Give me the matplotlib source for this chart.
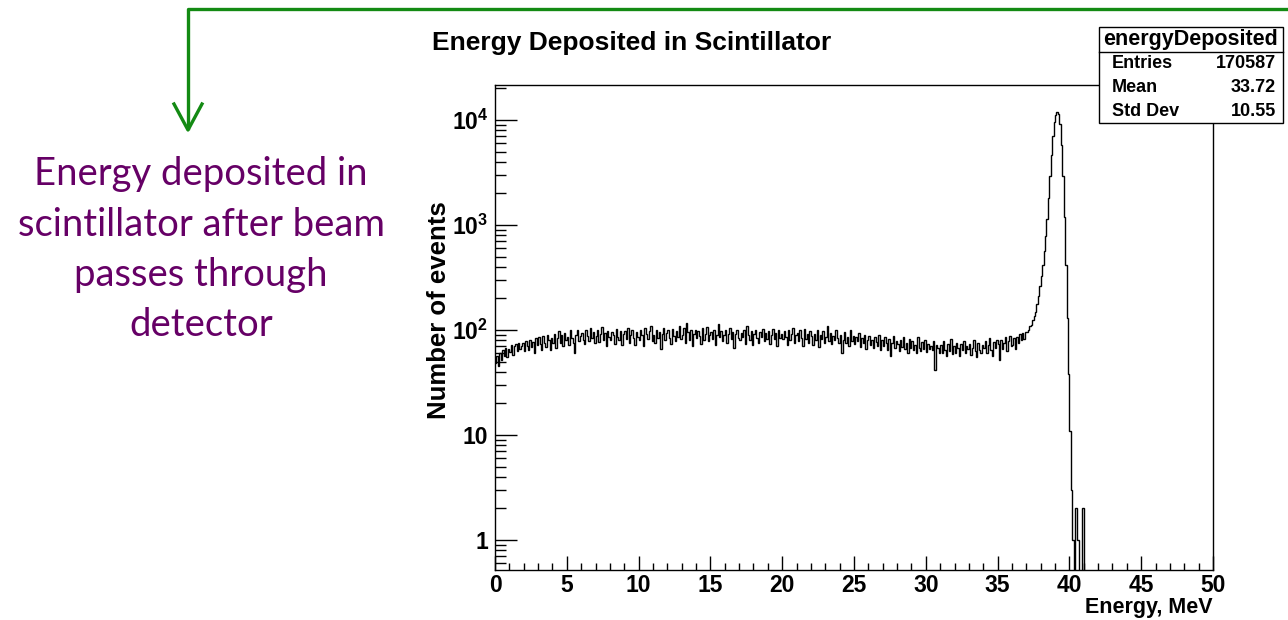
import numpy as np
import matplotlib.pyplot as plt
from matplotlib.lines import Line2D
from matplotlib.patches import Rectangle
from matplotlib.ticker import MultipleLocator, LogLocator, NullFormatter, FixedLocator, FixedFormatter

plt.rcParams['mathtext.fontset'] = 'custom'
plt.rcParams['mathtext.bf'] = 'Liberation Sans:bold'
plt.rcParams['mathtext.rm'] = 'Liberation Sans:bold'

# histogram of energy deposited, 500 bins of 0.1 MeV (0 - 50 MeV)
e_min, e_max = 0.0, 50.0
counts = np.array([
    48, 56, 45, 60, 52, 64, 57, 68, 55, 66,
    62, 72, 58, 70, 74, 63, 76, 66, 71, 75,
    63, 78, 70, 64, 81, 69, 77, 60, 83, 72,
    85, 73, 64, 88, 76, 69, 90, 80, 65, 84,
    75, 92, 68, 83, 98, 76, 89, 70, 94, 81,
    86, 72, 99, 84, 76, 60, 90, 100, 78, 88,
    94, 80, 73, 101, 88, 78, 104, 84, 96, 75,
    87, 99, 77, 91, 106, 81, 93, 70, 97, 85,
    80, 96, 89, 74, 102, 86, 81, 98, 72, 91,
    97, 82, 105, 76, 89, 101, 84, 72, 96, 86,
    80, 99, 90, 70, 104, 92, 82, 97, 108, 78,
    89, 75, 101, 84, 96, 66, 91, 105, 80, 93,
    99, 84, 73, 103, 88, 78, 98, 86, 110, 82,
    90, 104, 76, 116, 95, 81, 99, 70, 92, 101,
    84, 97, 88, 74, 104, 80, 92, 107, 78, 90,
    96, 82, 101, 72, 90, 114, 85, 98, 79, 89,
    99, 76, 92, 104, 82, 96, 68, 91, 101, 84,
    80, 93, 86, 100, 74, 108, 89, 81, 98, 72,
    91, 101, 84, 76, 96, 86, 103, 78, 93, 82,
    98, 74, 89, 102, 82, 94, 70, 100, 84, 91,
    82, 97, 86, 72, 100, 80, 91, 105, 76, 89,
    94, 78, 99, 84, 70, 103, 82, 92, 75, 97,
    87, 72, 92, 80, 101, 69, 89, 82, 97, 76,
    85, 108, 78, 93, 73, 87, 80, 99, 83, 75,
    90, 60, 81, 95, 75, 86, 71, 100, 79, 88,
    74, 85, 78, 94, 69, 83, 76, 89, 66, 81,
    88, 72, 81, 68, 86, 77, 71, 90, 65, 80,
    70, 85, 76, 64, 82, 56, 75, 88, 67, 79,
    73, 63, 80, 69, 86, 66, 76, 61, 82, 68,
    78, 64, 72, 60, 85, 68, 63, 77, 66, 81,
    62, 73, 66, 70, 64, 78, 42, 72, 67, 61,
    72, 60, 78, 65, 57, 74, 63, 82, 59, 70,
    61, 75, 67, 56, 73, 64, 79, 60, 71, 66,
    74, 58, 68, 81, 63, 55, 76, 65, 60, 72,
    67, 79, 61, 72, 83, 64, 56, 77, 68, 80,
    73, 52, 81, 66, 76, 85, 63, 78, 88, 71,
    72, 84, 66, 86, 75, 91, 80, 93, 82, 95,
    95, 100, 108, 112, 125, 135, 150, 175, 210, 260,
    330, 420, 560, 780, 1150, 1800, 2900, 4600, 7000, 9500,
    11200, 11800, 11300, 9200, 5800, 2900, 1200, 420, 130, 38,
    11, 3, 1, 0, 2, 1, 1, 0, 0, 2,
    0, 0, 0, 0, 0, 0, 0, 0, 0, 0,
    0, 0, 0, 0, 0, 0, 0, 0, 0, 0,
    0, 0, 0, 0, 0, 0, 0, 0, 0, 0,
    0, 0, 0, 0, 0, 0, 0, 0, 0, 0,
    0, 0, 0, 0, 0, 0, 0, 0, 0, 0,
    0, 0, 0, 0, 0, 0, 0, 0, 0, 0,
    0, 0, 0, 0, 0, 0, 0, 0, 0, 0,
    0, 0, 0, 0, 0, 0, 0, 0, 0, 0,
    0, 0, 0, 0, 0, 0, 0, 0, 0, 0,
], dtype=float)
edges = np.linspace(e_min, e_max, len(counts) + 1)

stat_title = 'energyDeposited'
stat_names = ['Entries', 'Mean', 'Std Dev']
stat_values = ['170587', '33.72', '10.55']

note_lines = ['Energy deposited in', 'scintillator after beam', 'passes through', 'detector']

W, H = 1288, 620
def fx(p):
    return p / W
def fy(p):
    return 1 - p / H

root_font = 'Liberation Sans'
green = '#138a13'
purple = '#660066'

fig = plt.figure(figsize=(12.88, 6.2), dpi=100)
ax = fig.add_axes([fx(495), fy(570), (1213 - 495) / W, (570 - 85) / H])

# zero bins drawn at the bottom of the frame like ROOT does
shown = np.where(counts > 0, counts, 1e-3)
ax.stairs(shown, edges, color='black', lw=1.0, baseline=None)

ax.set_yscale('log')
ax.set_xlim(e_min, e_max)
ax.set_ylim(0.518, 21540)

ax.xaxis.set_major_locator(MultipleLocator(5))
ax.xaxis.set_minor_locator(MultipleLocator(1))
ax.yaxis.set_major_locator(FixedLocator([1, 10, 100, 1000, 10000]))
ax.yaxis.set_major_formatter(FixedFormatter(['1', '10', r'$\mathbf{10^{2}}$',
                                             r'$\mathbf{10^{3}}$', r'$\mathbf{10^{4}}$']))
ax.yaxis.set_minor_locator(LogLocator(base=10, subs=np.arange(2, 10)))
ax.yaxis.set_minor_formatter(NullFormatter())

ax.tick_params(axis='x', which='major', direction='in', length=10.4, width=1, pad=3, top=False)
ax.tick_params(axis='x', which='minor', direction='in', length=5.2, width=1, top=False)
ax.tick_params(axis='y', which='major', direction='in', length=15.5, width=1, pad=5, right=False)
ax.tick_params(axis='y', which='minor', direction='in', length=7.7, width=1, right=False)
for lab in ax.get_xticklabels() + ax.get_yticklabels():
    lab.set_fontfamily(root_font)
    lab.set_fontweight('bold')
    lab.set_fontsize(16.5)
for sp in ax.spines.values():
    sp.set_linewidth(1)

fig.text(fx(432), fy(43), 'Energy Deposited in Scintillator', family=root_font,
         weight='bold', fontsize=19, ha='left', va='center')
fig.text(fx(1213), fy(613), 'Energy, MeV', family=root_font, weight='bold',
         fontsize=15.5, ha='right', va='baseline')
fig.text(fx(439), fy(310), 'Number of events', family=root_font, weight='bold',
         fontsize=18.5, ha='center', va='center', rotation=90)

# stats box
bx0, bx1, by0, by1, bsep = 1099, 1283, 27, 123, 52
fig.add_artist(Rectangle((fx(bx0), fy(by1)), fx(bx1) - fx(bx0), fy(by0) - fy(by1),
                         transform=fig.transFigure, facecolor='white',
                         edgecolor='black', lw=1, zorder=10))
fig.add_artist(Line2D([fx(bx0), fx(bx1)], [fy(bsep), fy(bsep)], color='black', lw=1, zorder=11))
fig.text(fx((bx0 + bx1) / 2), fy(40), stat_title, family=root_font, weight='bold',
         fontsize=15.5, ha='center', va='center', zorder=12)
for i, (name, val) in enumerate(zip(stat_names, stat_values)):
    yy = fy(64 + 24 * i)
    fig.text(fx(1112), yy, name, family=root_font, weight='bold', fontsize=13,
             ha='left', va='center', zorder=12)
    fig.text(fx(1276), yy, val, family=root_font, weight='bold', fontsize=13,
             ha='right', va='center', zorder=12)

# green arrow and note
fig.add_artist(Line2D([fx(1288), fx(188), fx(188)], [fy(9), fy(9), fy(128)],
                      color=green, lw=2.4))
fig.add_artist(Line2D([fx(174), fx(188), fx(202)], [fy(104), fy(130), fy(104)],
                      color=green, lw=2.4))
for i, line in enumerate(note_lines):
    fig.text(fx(201), fy(185 + 50.5 * i), line, family='Lato', fontsize=27.5,
             color=purple, ha='center', va='baseline')

fig.savefig('out.png', dpi=100)
